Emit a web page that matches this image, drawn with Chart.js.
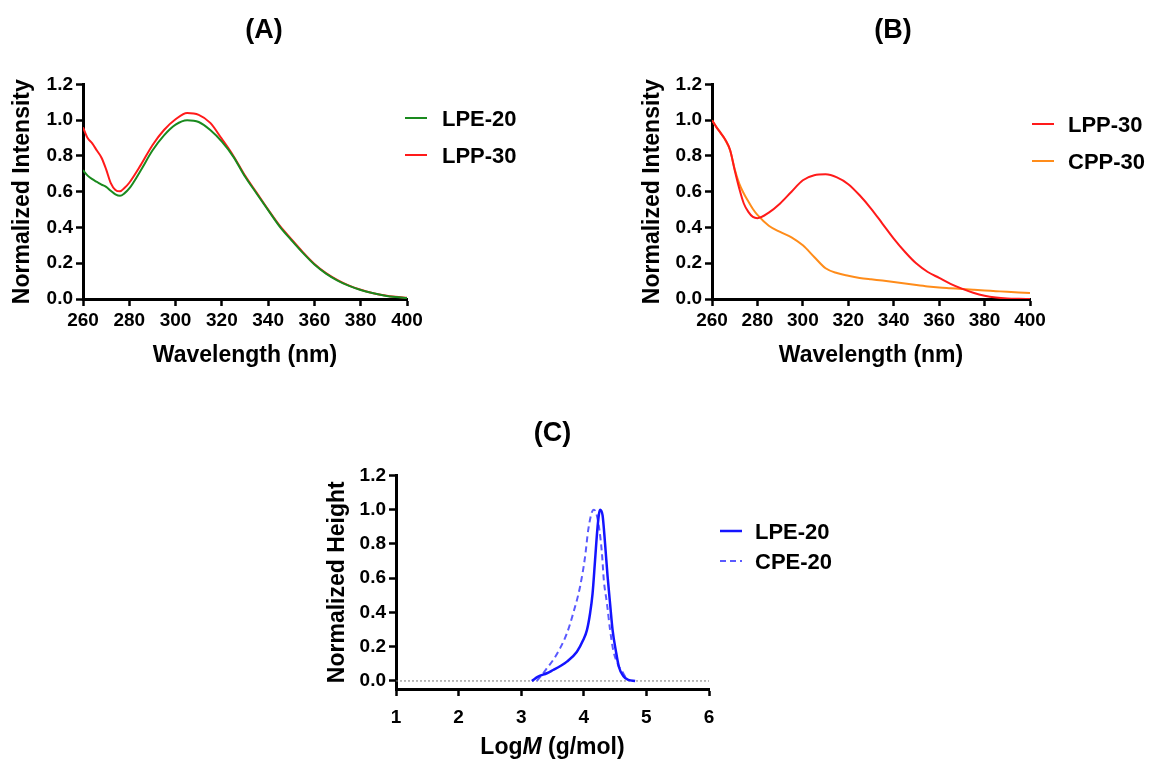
<!DOCTYPE html>
<html>
<head>
<meta charset="utf-8">
<script src="https://cdn.jsdelivr.net/npm/chart.js@4.4.0/dist/chart.umd.min.js"></script>
<style>
  html, body { margin: 0; padding: 0; background: #fff; overflow: hidden; }
  canvas { position: absolute; }
</style>
</head>
<body>
<canvas id="chartA" width="528" height="380" style="left:0;top:0"></canvas>
<canvas id="chartB" width="526" height="380" style="left:630px;top:0"></canvas>
<canvas id="chartC" width="535" height="361" style="left:315px;top:400px"></canvas>
<script>
// wavelength grid shared by panels A and B (nm)
const wavelengths = [260, 262, 264, 266, 268, 270, 272, 274, 276, 278, 280, 285, 290, 295, 300, 305, 310, 315, 320,
  325, 330, 335, 340, 345, 350, 355, 360, 365, 370, 375, 380, 385, 390, 395, 400];

// panel A
const lpe20A = [0.72, 0.69, 0.67, 0.655, 0.64, 0.627, 0.605, 0.585, 0.577, 0.592, 0.618, 0.72, 0.83, 0.915, 0.975, 1.0, 0.99,
  0.945, 0.88, 0.795, 0.685, 0.59, 0.497, 0.405, 0.33, 0.258, 0.193, 0.142, 0.103, 0.073, 0.05, 0.033, 0.02, 0.011, 0.006];
const lpp30A = [0.96, 0.9, 0.87, 0.83, 0.79, 0.725, 0.648, 0.61, 0.602, 0.622, 0.65, 0.75, 0.86, 0.945, 1.005, 1.04, 1.03,
  0.985, 0.895, 0.8, 0.69, 0.595, 0.5, 0.41, 0.335, 0.262, 0.196, 0.145, 0.106, 0.075, 0.052, 0.034, 0.021, 0.012, 0.007];

// panel B
const lpp30B = [1.0, 0.96, 0.925, 0.888, 0.832, 0.72, 0.618, 0.534, 0.487, 0.459, 0.452, 0.483, 0.534, 0.6, 0.664, 0.692, 0.697,
  0.68, 0.642, 0.58, 0.506, 0.422, 0.338, 0.263, 0.198, 0.151, 0.118, 0.085, 0.058, 0.035, 0.018, 0.008, 0.003, 0.001, 0.0];
const cpp30B = [1.0, 0.96, 0.925, 0.885, 0.83, 0.725, 0.645, 0.59, 0.545, 0.503, 0.47, 0.41, 0.375, 0.345, 0.3, 0.235, 0.172,
  0.145, 0.13, 0.118, 0.11, 0.103, 0.095, 0.087, 0.078, 0.07, 0.064, 0.06, 0.056, 0.052, 0.048, 0.044, 0.04, 0.037, 0.034];

// panel C (GPC traces)
const logMLPE = [3.17, 3.27, 3.41, 3.51, 3.62, 3.73, 3.89, 3.99, 4.05, 4.1, 4.14, 4.18, 4.22, 4.26, 4.3, 4.34, 4.38, 4.42,
  4.46, 4.51, 4.56, 4.63, 4.71, 4.82];
const heightLPE = [0, 0.025, 0.045, 0.064, 0.086, 0.113, 0.171, 0.239, 0.297, 0.394, 0.51, 0.705, 0.9, 1.0, 0.967, 0.8, 0.61,
  0.45, 0.297, 0.18, 0.083, 0.029, 0.006, 0];
const logMCPE = [3.25, 3.33, 3.41, 3.51, 3.62, 3.73, 3.83, 3.94, 4.02, 4.07, 4.13, 4.16, 4.2, 4.25, 4.29, 4.32, 4.37, 4.42,
  4.47, 4.55, 4.63, 4.68, 4.74];
const heightCPE = [0, 0.035, 0.074, 0.122, 0.19, 0.278, 0.394, 0.55, 0.724, 0.88, 0.986, 1.0, 0.977, 0.88, 0.744, 0.588, 0.452,
  0.297, 0.18, 0.093, 0.045, 0.016, 0.002];

// tick values
const wavelengthTicks = [260, 280, 300, 320, 340, 360, 380, 400];
const intensityTicks = [0, 0.2, 0.4, 0.6, 0.8, 1.0, 1.2];
const logMTicks = [1, 2, 3, 4, 5, 6];

const FONT = "'Liberation Sans', Arial, Helvetica, sans-serif";
Chart.defaults.font.family = FONT;
Chart.defaults.color = '#000';

const toPoints = (xs, ys) => xs.map((x, i) => ({ x: x, y: ys[i] }));

// legend drawn beside the plot, one row per labelled dataset
const sideLegend = {
  id: 'sideLegend',
  afterDraw(chart, args, opts) {
    const ctx = chart.ctx;
    ctx.save();
    ctx.font = 'bold ' + opts.fontSize + 'px ' + FONT;
    ctx.textBaseline = 'middle';
    let y = opts.y;
    chart.data.datasets.forEach(ds => {
      if (!ds.label) return;
      ctx.strokeStyle = ds.borderColor;
      ctx.lineWidth = ds.borderWidth;
      ctx.setLineDash(ds.borderDash || []);
      ctx.beginPath();
      ctx.moveTo(opts.x, y - 2);
      ctx.lineTo(opts.x + opts.lineLength, y - 2);
      ctx.stroke();
      ctx.setLineDash([]);
      ctx.fillStyle = '#000';
      ctx.fillText(ds.label, opts.x + opts.textOffset, y);
      y += opts.gap;
    });
    ctx.restore();
  }
};

// x-axis title with an italic part (LogM)
const richXTitle = {
  id: 'richXTitle',
  afterDraw(chart, args, opts) {
    if (!opts.parts) return;
    const { ctx, chartArea } = chart;
    ctx.save();
    ctx.textBaseline = 'middle';
    ctx.fillStyle = '#000';
    const fonts = opts.parts.map(p => (p.italic ? 'italic ' : '') + 'bold ' + opts.fontSize + 'px ' + FONT);
    const widths = opts.parts.map((p, i) => { ctx.font = fonts[i]; return ctx.measureText(p.text).width; });
    let x = (chartArea.left + chartArea.right) / 2 - widths.reduce((a, b) => a + b, 0) / 2;
    opts.parts.forEach((p, i) => {
      ctx.font = fonts[i];
      ctx.fillText(p.text, x, opts.y);
      x += widths[i];
    });
    ctx.restore();
  }
};

function makeScale(o) {
  return {
    type: 'linear',
    min: o.min,
    max: o.max,
    afterBuildTicks: s => { s.ticks = o.ticks.map(v => ({ value: v })); },
    afterFit: o.afterFit,
    border: { display: true, color: '#000', width: 3 },
    grid: { drawOnChartArea: false, drawTicks: true, tickLength: 7, tickWidth: 2.5, tickColor: '#000' },
    ticks: {
      color: '#000', padding: o.tickPadding || 3, autoSkip: false, maxRotation: 0,
      font: { size: 19, weight: 'bold' },
      callback: v => v.toFixed(o.decimals)
    },
    title: o.title
      ? { display: true, text: o.title, color: '#000', font: { size: 23, weight: 'bold' }, padding: o.titlePadding }
      : { display: false }
  };
}

function lineSet(label, data, color, extra) {
  return Object.assign({
    label: label,
    data: data,
    borderColor: color,
    backgroundColor: color,
    borderWidth: 2,
    pointRadius: 0,
    fill: false,
    cubicInterpolationMode: 'monotone'
  }, extra || {});
}

function spectrumChart(id, title, datasets, rightPad, yWidth, legend) {
  return new Chart(document.getElementById(id), {
    type: 'line',
    data: { datasets: datasets },
    options: {
      responsive: false,
      animation: false,
      layout: { padding: 0 },
      plugins: {
        legend: { display: false },
        tooltip: { enabled: false },
        title: {
          display: true, text: title, color: '#000',
          font: { size: 27, weight: 'bold' }, padding: { top: 14, bottom: 38 }
        },
        sideLegend: legend
      },
      scales: {
        x: makeScale({
          min: 260, max: 400, ticks: wavelengthTicks, decimals: 0,
          title: 'Wavelength (nm)', titlePadding: { top: 0, bottom: 11 },
          afterFit: s => { s.height = 81; s.paddingRight = rightPad; }
        }),
        y: makeScale({
          min: 0, max: 1.2, ticks: intensityTicks, decimals: 1,
          title: 'Normalized Intensity', titlePadding: { top: 9, bottom: 0 },
          afterFit: s => { s.width = yWidth; }
        })
      }
    },
    plugins: [sideLegend]
  });
}

// (A)
spectrumChart('chartA', '(A)', [
  lineSet('LPE-20', toPoints(wavelengths, lpe20A), '#1a8a1e'),
  lineSet('LPP-30', toPoints(wavelengths, lpp30A), '#ff1a1a')
], 121, 83, { x: 405, y: 120, gap: 37, lineLength: 22, textOffset: 37, fontSize: 22 });

// (B)
spectrumChart('chartB', '(B)', [
  lineSet('LPP-30', toPoints(wavelengths, lpp30B), '#ff1a1a'),
  lineSet('CPP-30', toPoints(wavelengths, cpp30B), '#ff8c1a')
], 126, 82, { x: 402, y: 126, gap: 37, lineLength: 22, textOffset: 36, fontSize: 22 });

// (C)
new Chart(document.getElementById('chartC'), {
  type: 'line',
  data: {
    datasets: [
      lineSet('LPE-20', toPoints(logMLPE, heightLPE), '#1414ff', { borderWidth: 2.5 }),
      lineSet('CPE-20', toPoints(logMCPE, heightCPE), '#5a5aff', { borderDash: [6, 4] }),
      lineSet(undefined, [{ x: logMTicks[0], y: 0 }, { x: logMTicks[logMTicks.length - 1], y: 0 }], '#777',
        { borderWidth: 1, borderDash: [2, 2], cubicInterpolationMode: 'default' })
    ]
  },
  options: {
    responsive: false,
    animation: false,
    layout: { padding: 0 },
    plugins: {
      legend: { display: false },
      tooltip: { enabled: false },
      title: {
        display: true, fullSize: false, text: '(C)', color: '#000',
        font: { size: 27, weight: 'bold' }, padding: { top: 17, bottom: 26 }
      },
      sideLegend: { x: 405, y: 133, gap: 30, lineLength: 22, textOffset: 35, fontSize: 22 },
      richXTitle: {
        y: 348, fontSize: 23,
        parts: [{ text: 'Log' }, { text: 'M', italic: true }, { text: ' (g/mol)' }]
      }
    },
    scales: {
      x: makeScale({
        min: 1, max: 6, ticks: logMTicks, decimals: 0, tickPadding: 10,
        afterFit: s => { s.height = 72; s.paddingRight = 141; }
      }),
      y: makeScale({
        min: -0.047, max: 1.2, ticks: intensityTicks, decimals: 1,
        title: 'Normalized Height', titlePadding: { top: 9, bottom: 0 },
        afterFit: s => { s.width = 81; }
      })
    }
  },
  plugins: [sideLegend, richXTitle]
});
</script>
</body>
</html>
